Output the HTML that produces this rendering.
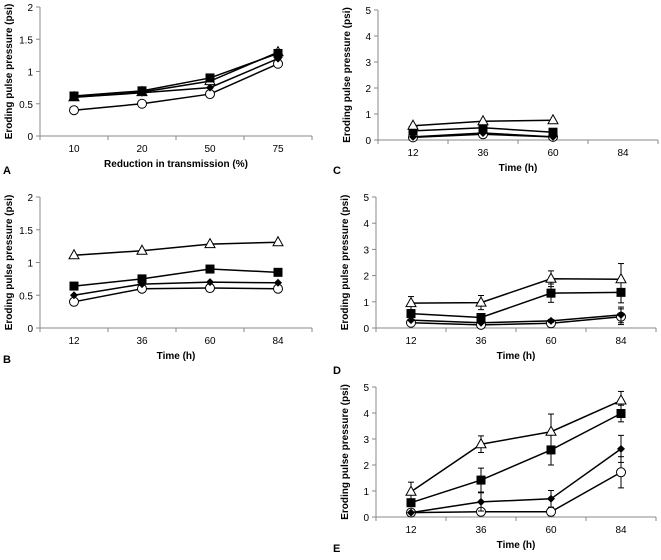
<!DOCTYPE html>
<html><head><meta charset="utf-8"><style>
body{margin:0;background:#fff}
svg{display:block;font-family:"Liberation Sans",Arial,sans-serif}
text{fill:#000}
</style></head><body>
<svg id="fig" width="661" height="560" viewBox="0 0 661 560"></svg>
<script>
// Panel A data
const catsA = ["10","20","50","75"];
const A_circle = [0.4,0.5,0.65,1.12];
const A_diamond = [0.6,0.67,0.75,1.2];
const A_triangle = [0.6,0.68,0.85,1.3];
const A_square = [0.62,0.7,0.9,1.28];
// Panel B
const catsT = ["12","36","60","84"];
const B_triangle = [1.11,1.18,1.28,1.31];
const B_square = [0.64,0.75,0.9,0.85];
const B_diamond = [0.5,0.67,0.7,0.69];
const B_circle = [0.4,0.6,0.61,0.6];
// Panel C
const C_triangle = [0.55,0.72,0.76];
const C_square = [0.35,0.47,0.3];
const C_diamond = [0.12,0.27,0.12];
const C_circle = [0.1,0.22,0.12];
// Panel D
const D_triangle = [0.95,0.97,1.88,1.86];
const D_triangle_err = [0.25,0.27,0.3,0.6];
const D_square = [0.55,0.4,1.33,1.36];
const D_square_err = [0.1,0.1,0.35,0.4];
const D_diamond = [0.3,0.2,0.27,0.5];
const D_diamond_err = [0,0,0.05,0.3];
const D_circle = [0.2,0.12,0.18,0.43];
const D_circle_err = [0,0,0,0.3];
// Panel E
const E_triangle = [0.97,2.8,3.28,4.48];
const E_triangle_err = [0.37,0.32,0.68,0.35];
const E_square = [0.55,1.42,2.58,3.98];
const E_square_err = [0,0.46,0.58,0.32];
const E_diamond = [0.17,0.58,0.7,2.62];
const E_diamond_err = [0,0.35,0.32,0.52];
const E_circle = [0.17,0.2,0.2,1.72];
const E_circle_err = [0,0,0.15,0.6];
const ticks2 = ["0","0.5","1","1.5","2"];
const ticks5 = ["0","1","2","3","4","5"];

const NS="http://www.w3.org/2000/svg";
const svg=document.getElementById('fig');
function mk(tag,attrs,parent,txt){const e=document.createElementNS(NS,tag);for(const k in attrs)e.setAttribute(k,attrs[k]);if(txt!==undefined)e.textContent=txt;(parent||svg).appendChild(e);return e;}

function panel(p){
  const g=mk('g',{});
  
  
  const n=p.cats.length, cw=(p.x1-p.x0)/n;
  const ymax=Number(p.ticks[p.ticks.length-1]);
  const xs=i=>p.x0+cw*(i+0.5);
  const ys=v=>p.y0-(p.y0-p.yTop)*v/ymax;
  const ax=mk('g',{stroke:'#888','stroke-width':1},g);
  
  
  mk('line',{x1:p.x0,y1:p.yTop,x2:p.x0,y2:p.y0},ax);
  mk('line',{x1:p.x0,y1:p.y0,x2:p.x1,y2:p.y0},ax);
  p.ticks.forEach(t=>{const y=ys(Number(t));mk('line',{x1:p.x0-4,y1:y,x2:p.x0,y2:y},ax);
    const tl=mk('text',{x:p.x0-7,y:y+4,'font-size':10,'text-anchor':'end'},g,t);
    
    });
  for(let i=0;i<=n;i++){const x=p.x0+cw*i;mk('line',{x1:x,y1:p.y0,x2:x,y2:p.y0+4},ax);}
  p.cats.forEach((c,i)=>{const tl=mk('text',{x:xs(i),y:p.y0+16,'font-size':10,'text-anchor':'middle'},g,c);
    
    });
  const xt=mk('text',{x:(p.x0+p.x1)/2,y:p.y0+31,'font-size':10,'font-weight':'bold','text-anchor':'middle'},g,p.xtitle);
  
  
  const cy=(p.y0+p.yTop)/2;
  const yt=mk('text',{x:0,y:0,'font-size':10,'font-weight':'bold','text-anchor':'middle',transform:`translate(${p.x0-28},${cy}) rotate(-90)`},g,'Eroding pulse pressure (psi)');
  
  
  const lt=mk('text',{x:p.lx,y:p.ly,'font-size':11,'font-weight':'bold'},g,p.letter);
  
  
  p.series.forEach(s=>{
    const sg=mk('g',{},g);
    
    
    if(s.err){s.vals.forEach((v,i)=>{const e=s.err[i];if(!e)return;const x=xs(i);
      mk('line',{x1:x,y1:ys(v-e),x2:x,y2:ys(v+e),stroke:'#000','stroke-width':1},sg);
      mk('line',{x1:x-3,y1:ys(v+e),x2:x+3,y2:ys(v+e),stroke:'#000','stroke-width':1},sg);
      mk('line',{x1:x-3,y1:ys(v-e),x2:x+3,y2:ys(v-e),stroke:'#000','stroke-width':1},sg);});}
    mk('polyline',{points:s.vals.map((v,i)=>xs(i)+','+ys(v)).join(' '),fill:'none',stroke:'#000','stroke-width':1.5},sg);
    s.vals.forEach((v,i)=>{const x=xs(i),y=ys(v);let m;
      if(s.kind==='circle')m=mk('circle',{cx:x,cy:y,r:4.5,fill:'#fff',stroke:'#000','stroke-width':1},sg);
      else if(s.kind==='square')m=mk('rect',{x:x-4.5,y:y-4.5,width:9,height:9,fill:'#000'},sg);
      else if(s.kind==='diamond')m=mk('polygon',{points:`${x},${y-4} ${x+4},${y} ${x},${y+4} ${x-4},${y}`,fill:'#000'},sg);
      else m=mk('polygon',{points:`${x},${y-5.5} ${x+5},${y+3.5} ${x-5},${y+3.5}`,fill:'#fff',stroke:'#000','stroke-width':1},sg);
      
      });
  });
}
panel({letter:'A',lx:3,ly:174,x0:40,x1:312,yTop:7,y0:136,cats:catsA,ticks:ticks2,xtitle:'Reduction in transmission (%)',
  series:[{kind:'circle',vals:A_circle},{kind:'diamond',vals:A_diamond},{kind:'triangle',vals:A_triangle},{kind:'square',vals:A_square}]});
panel({letter:'B',lx:3,ly:363,x0:40,x1:312,yTop:197,y0:328,cats:catsT,ticks:ticks2,xtitle:'Time (h)',
  series:[{kind:'circle',vals:B_circle},{kind:'diamond',vals:B_diamond},{kind:'square',vals:B_square},{kind:'triangle',vals:B_triangle}]});
panel({letter:'C',lx:333,ly:174,x0:378,x1:658,yTop:10,y0:140,cats:catsT,ticks:ticks5,xtitle:'Time (h)',
  series:[{kind:'circle',vals:C_circle},{kind:'diamond',vals:C_diamond},{kind:'square',vals:C_square},{kind:'triangle',vals:C_triangle}]});
panel({letter:'D',lx:333,ly:374,x0:376,x1:656,yTop:197,y0:328,cats:catsT,ticks:ticks5,xtitle:'Time (h)',
  series:[{kind:'circle',vals:D_circle,err:D_circle_err},{kind:'diamond',vals:D_diamond,err:D_diamond_err},{kind:'square',vals:D_square,err:D_square_err},{kind:'triangle',vals:D_triangle,err:D_triangle_err}]});
panel({letter:'E',lx:333,ly:552,x0:376,x1:656,yTop:387,y0:517,cats:catsT,ticks:ticks5,xtitle:'Time (h)',
  series:[{kind:'circle',vals:E_circle,err:E_circle_err},{kind:'diamond',vals:E_diamond,err:E_diamond_err},{kind:'square',vals:E_square,err:E_square_err},{kind:'triangle',vals:E_triangle,err:E_triangle_err}]});
</script>
</body></html>
